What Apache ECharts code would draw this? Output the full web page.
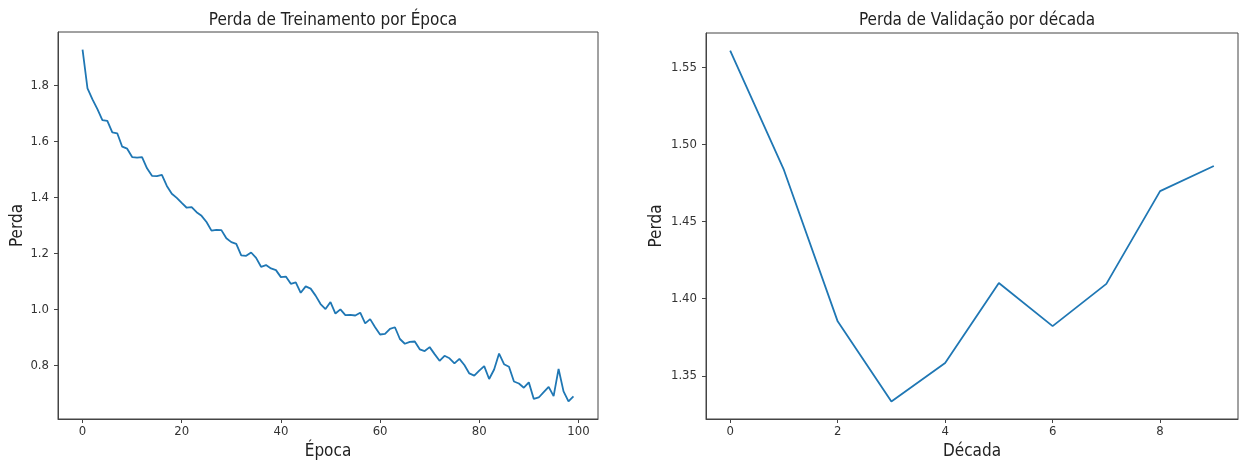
<!DOCTYPE html>
<html><head><meta charset="utf-8">
<script src="https://cdn.jsdelivr.net/npm/echarts@6/dist/echarts.min.js"></script>
<style>html,body{margin:0;padding:0;background:#fff}#c{width:1250px;height:465px}</style>
</head><body><div id="c"></div>
<script>
const trainLoss = [1.929,1.790,1.751,1.716,1.677,1.674,1.633,1.630,1.582,1.575,
  1.545,1.543,1.545,1.505,1.478,1.477,1.481,1.442,1.414,1.399,
  1.381,1.364,1.366,1.348,1.335,1.313,1.282,1.285,1.284,1.255,
  1.241,1.235,1.194,1.192,1.204,1.185,1.153,1.159,1.147,1.141,
  1.116,1.118,1.092,1.097,1.060,1.083,1.075,1.050,1.020,1.002,
  1.027,0.986,1.001,0.980,0.981,0.979,0.989,0.951,0.966,0.937,
  0.911,0.913,0.931,0.937,0.895,0.878,0.885,0.886,0.858,0.852,
  0.866,0.841,0.817,0.835,0.826,0.808,0.824,0.802,0.772,0.764,
  0.782,0.798,0.752,0.786,0.843,0.805,0.796,0.743,0.736,0.721,
  0.740,0.681,0.686,0.705,0.724,0.691,0.788,0.708,0.672,0.690];
const valLoss = [1.5608,1.4834,1.3853,1.3334,1.3583,1.4102,1.3822,1.4096,1.4697,1.4860];
const trainXTicks = [0,20,40,60,80,100];
const trainYTicks = [0.8,1.0,1.2,1.4,1.6,1.8];
const valXTicks = [0,2,4,6,8];
const valYTicks = [1.35,1.40,1.45,1.50,1.55];
const titles = ['Perda de Treinamento por Época','Perda de Validação por década'];
const xNames = ['Época','Década'];
const yName = 'Perda';

const FONT = '"DejaVu Sans Condensed","DejaVu Sans",sans-serif';
function pad(arr){const mn=Math.min(...arr),mx=Math.max(...arr),r=mx-mn;return [mn-0.05*r,mx+0.05*r];}
function pairs(arr){return arr.map((v,i)=>[i,v]);}

const grids=[{left:58,top:32,width:540,height:391},{left:706,top:33,width:532,height:391}];
const series=[trainLoss,valLoss];
const xt=[trainXTicks,valXTicks], yt=[trainYTicks,valYTicks];
const dec=[1,2];
const yGap=[32,41];

const opt={animation:false,backgroundColor:'#fff',
  title:titles.map((t,i)=>({text:t,left:grids[i].left+grids[i].width/2,top:7,textAlign:'center',
    textStyle:{fontFamily:FONT,fontSize:17,fontWeight:'normal',color:'#222'}})),
  grid:grids.map(g=>Object.assign({show:true,borderColor:'#444',borderWidth:1,backgroundColor:'transparent'},g)),
  xAxis:series.map((s,i)=>{const n=s.length-1;return {type:'value',gridIndex:i,min:-0.05*n,max:n*1.05,
    name:xNames[i],nameLocation:'middle',nameGap:24,
    nameTextStyle:{fontFamily:FONT,fontSize:17,color:'#222'},
    axisLine:{show:true,onZero:false,lineStyle:{color:'#444',width:1}},
    axisTick:{show:true,length:4,customValues:xt[i],lineStyle:{color:'#444'}},
    axisLabel:{customValues:xt[i],margin:6,fontFamily:FONT,fontSize:13,color:'#333'},
    splitLine:{show:false}};}),
  yAxis:series.map((s,i)=>{const e=pad(s);return {type:'value',gridIndex:i,min:e[0],max:e[1],
    name:yName,nameLocation:'middle',nameGap:yGap[i],
    nameTextStyle:{fontFamily:FONT,fontSize:17,color:'#222'},
    axisLine:{show:true,onZero:false,lineStyle:{color:'#444',width:1}},
    axisTick:{show:true,length:4,customValues:yt[i],lineStyle:{color:'#444'}},
    axisLabel:{customValues:yt[i],margin:9,fontFamily:FONT,fontSize:13,color:'#333',
      formatter:v=>v.toFixed(dec[i])},
    splitLine:{show:false}};}),
  series:series.map((s,i)=>({type:'line',xAxisIndex:i,yAxisIndex:i,data:pairs(s),showSymbol:false,
    lineStyle:{color:'#1f77b4',width:1.8},itemStyle:{color:'#1f77b4'}}))
};
echarts.init(document.getElementById('c')).setOption(opt);
</script></body></html>
